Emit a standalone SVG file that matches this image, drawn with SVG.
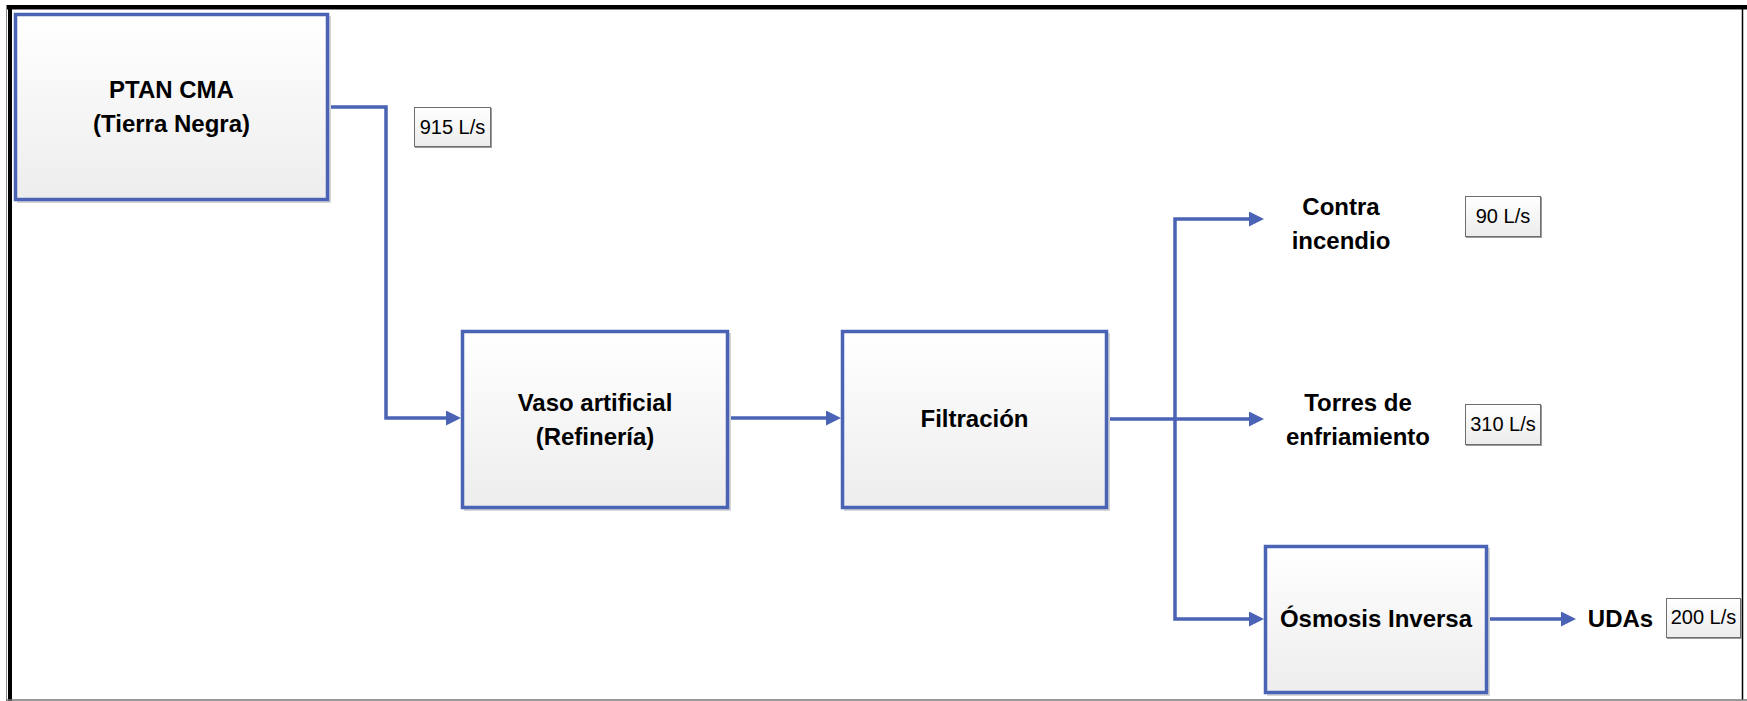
<svg xmlns="http://www.w3.org/2000/svg" width="1747" height="701" viewBox="0 0 1747 701">
  <defs>
    <linearGradient id="boxFill" x1="0" y1="0" x2="0" y2="1">
      <stop offset="0" stop-color="#FFFFFF"/>
      <stop offset="1" stop-color="#EDEDED"/>
    </linearGradient>
    <linearGradient id="tagFill" x1="0" y1="0" x2="0" y2="1">
      <stop offset="0" stop-color="#FFFFFF"/>
      <stop offset="1" stop-color="#ECECEC"/>
    </linearGradient>
    <marker id="arrow" markerUnits="userSpaceOnUse" markerWidth="15" markerHeight="15" refX="5" refY="7.5" orient="auto">
      <path d="M0,0 L15,7.5 L0,15 z" fill="#4A63B5"/>
    </marker>
    <style>
      .box { fill: url(#boxFill); stroke: #4A63B5; stroke-width: 3.5; }
      .shadow { fill: #D6D6D6; }
      .tag { fill: url(#tagFill); stroke: #6E6E6E; stroke-width: 1; }
      .tagShadow { fill: #9A9A9A; }
      .flow { fill: none; stroke: #4A63B5; stroke-width: 3.5; }
      .title { font-family: "Liberation Sans", Arial, sans-serif; font-weight: bold; font-size: 24px; fill: #000; text-anchor: middle; }
      .rate { font-family: "Liberation Sans", Arial, sans-serif; font-size: 20px; fill: #000; text-anchor: middle; }
    </style>
  </defs>

  <!-- page background and frame -->
  <rect x="0" y="0" width="1747" height="701" fill="#FFFFFF"/>
  <rect x="6" y="5" width="1741" height="4" fill="#000"/>
  <line x1="6" y1="9.5" x2="1747" y2="9.5" stroke="#888" stroke-width="1"/>
  <rect x="8" y="5" width="4" height="696" fill="#000"/>
  <line x1="6.5" y1="5" x2="6.5" y2="701" stroke="#888" stroke-width="1"/>
  <line x1="1742.5" y1="5" x2="1742.5" y2="700" stroke="#000" stroke-width="1.5"/>
  <line x1="6" y1="700" x2="1747" y2="700" stroke="#777" stroke-width="1.5"/>

  <!-- connectors -->
  <g id="connectors">
    <path class="flow" d="M329,107 H386 V418 H451" marker-end="url(#arrow)"/>
    <path class="flow" d="M729,418 H831" marker-end="url(#arrow)"/>
    <path class="flow" d="M1108,419 H1254" marker-end="url(#arrow)"/>
    <path class="flow" d="M1175,419 V219 H1254" marker-end="url(#arrow)"/>
    <path class="flow" d="M1175,419 V619 H1254" marker-end="url(#arrow)"/>
    <path class="flow" d="M1488,619 H1566" marker-end="url(#arrow)"/>
  </g>

  <!-- process blocks -->
  <g id="ptan">
    <rect class="shadow" x="17" y="16" width="314" height="187"/>
    <rect class="box" x="15.5" y="14.5" width="312" height="185"/>
    <text class="title" x="171.5" y="98">PTAN CMA</text>
    <text class="title" x="171.5" y="132">(Tierra Negra)</text>
  </g>

  <g id="vaso">
    <rect class="shadow" x="464" y="333" width="267" height="178"/>
    <rect class="box" x="462.5" y="331.5" width="265" height="176"/>
    <text class="title" x="595" y="411">Vaso artificial</text>
    <text class="title" x="595" y="445">(Refinería)</text>
  </g>

  <g id="filtracion">
    <rect class="shadow" x="844" y="333" width="266" height="178"/>
    <rect class="box" x="842.5" y="331.5" width="264" height="176"/>
    <text class="title" x="974.5" y="427">Filtración</text>
  </g>

  <g id="osmosis">
    <rect class="shadow" x="1267" y="548" width="223" height="148"/>
    <rect class="box" x="1265.5" y="546.5" width="221" height="146"/>
    <text class="title" x="1376" y="627">Ósmosis Inversa</text>
  </g>

  <!-- destinations -->
  <g id="contra-incendio">
    <text class="title" x="1341" y="215">Contra</text>
    <text class="title" x="1341" y="249">incendio</text>
  </g>

  <g id="torres">
    <text class="title" x="1358" y="411">Torres de</text>
    <text class="title" x="1358" y="445">enfriamiento</text>
  </g>

  <g id="udas">
    <text class="title" x="1620.5" y="627">UDAs</text>
  </g>

  <!-- flow rate tags -->
  <g id="rate-915">
    <rect class="tagShadow" x="415" y="108" width="77" height="40"/>
    <rect class="tag" x="414.5" y="107.5" width="76" height="39"/>
    <text class="rate" x="452.5" y="134">915 L/s</text>
  </g>

  <g id="rate-90">
    <rect class="tagShadow" x="1466" y="197" width="76" height="41"/>
    <rect class="tag" x="1465.5" y="196.5" width="75" height="40"/>
    <text class="rate" x="1503" y="223">90 L/s</text>
  </g>

  <g id="rate-310">
    <rect class="tagShadow" x="1466" y="405" width="76" height="41"/>
    <rect class="tag" x="1465.5" y="404.5" width="75" height="40"/>
    <text class="rate" x="1503" y="431">310 L/s</text>
  </g>

  <g id="rate-200">
    <rect class="tagShadow" x="1667" y="599" width="75" height="40"/>
    <rect class="tag" x="1666.5" y="598.5" width="74" height="39"/>
    <text class="rate" x="1703.5" y="624">200 L/s</text>
  </g>
</svg>
